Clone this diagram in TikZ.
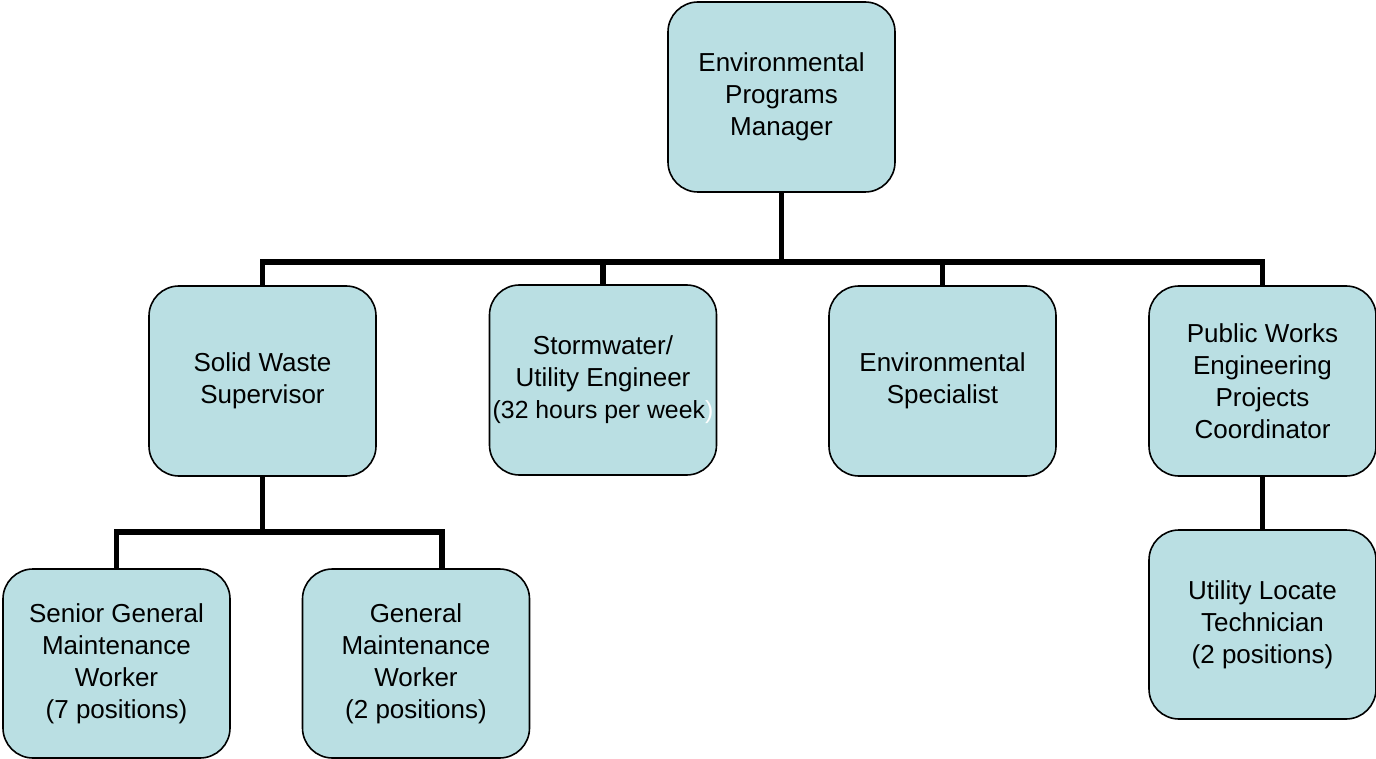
\documentclass[tikz,border=0pt]{standalone}
\usepackage{fontspec}
\setmainfont{Liberation Sans}
\definecolor{boxfill}{RGB}{186,223,227}
\tikzset{
  post/.style={draw=black, line width=0.8pt, fill=boxfill, rounded corners=15pt,
    minimum width=113.5pt, minimum height=95pt, align=center, inner xsep=0pt,
    font=\fontsize{13}{16}\selectfont},
  conn/.style={line width=2.8pt}
}
\begin{document}
\begin{tikzpicture}[x=0.5pt,y=-0.5pt]
  \useasboundingbox (0,0) rectangle (1376,759);
  \node[post] (mgr) at (781.5,97) {Environmental\\Programs\\Manager};
  \node[post] (sws) at (262.5,381) {Solid Waste\\Supervisor};
  \node[post] (sue) at (603,380) {Stormwater/\\Utility Engineer\\{\fontsize{12.4}{16}\selectfont(32 hours per week\textcolor{white}{)}}};
  \node[post] (esp) at (942.5,381) {Environmental\\Specialist};
  \node[post] (pwc) at (1262.5,381) {Public Works\\Engineering\\Projects\\Coordinator};
  \node[post, minimum height=94.5pt] (sgw) at (116.5,663.5) {Senior General\\Maintenance\\Worker\\(7 positions)};
  \node[post, minimum height=94.5pt] (gmw) at (416,663.5) {General\\Maintenance\\Worker\\(2 positions)};
  \node[post, minimum height=94.5pt] (ult) at (1262.5,624.5) {Utility Locate\\Technician\\(2 positions)};
  \coordinate (bus) at (781.5,262);
  \coordinate (sjoin) at (262.5,532);
  \coordinate (gmtap) at ([xshift=13pt]gmw.north);
  \draw[conn] (mgr.south) -- (bus);
  \draw[conn] (sws.north) |- (bus) -| (pwc.north);
  \foreach \n in {sue,esp}
    \draw[conn] (\n.north) -- (\n.north |- bus);
  \draw[conn] (sws.south) -- (sjoin);
  \draw[conn] (sgw.north) |- (sjoin) -| (gmtap);
  \draw[conn] (pwc.south) -- (ult.north);
\end{tikzpicture}
\end{document}
